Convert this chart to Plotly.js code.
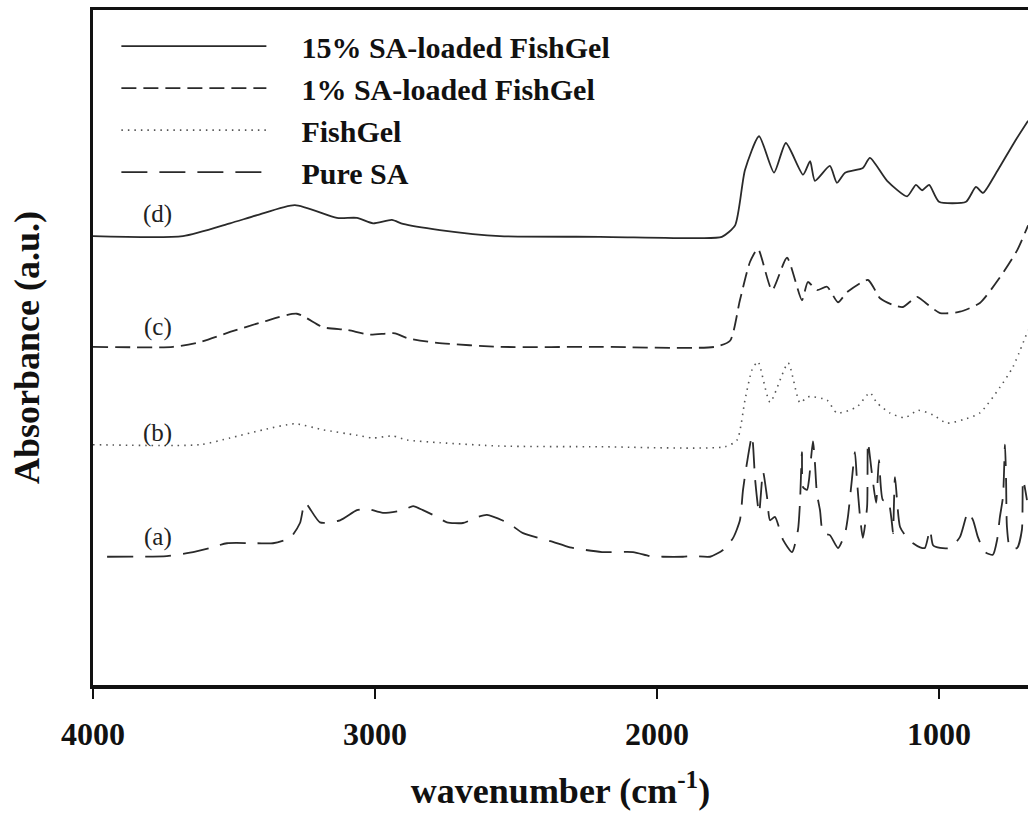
<!DOCTYPE html>
<html>
<head>
<meta charset="utf-8">
<script src="https://cdn.plot.ly/plotly-3.0.1.min.js"></script>
<style>html,body{margin:0;padding:0;background:#fff;}</style>
</head>
<body>
<div id="chart" style="width:1028px;height:822px;"></div>
<script>
// (d) 15% SA-loaded FishGel
const wnD = [4000,3681,3514,3418,3284,3135,3064,3007,2940,2901,2770,2557,2202,1848,1770,1723,1688,1638,1585,1543,1482,1457,1440,1387,1362,1333,1270,1245,1184,1113,1082,1060,1035,1000,904,869,844,801,730,684];
const absD = [66.5,66.5,68.4,69.6,71.1,69.2,69.2,68.4,68.9,68.3,67.4,66.5,66.4,66.2,66.4,68.1,76.3,81.3,75.9,80.3,75.6,77.6,74.7,76.9,74.4,75.9,76.6,78.1,74.7,72.4,74.1,73.3,74.1,71.6,71.6,73.8,72.9,75.6,80.6,83.6];
// (c) 1% SA-loaded FishGel
const wnC = [4000,3716,3621,3514,3397,3277,3184,3099,3018,2929,2887,2780,2557,2202,1794,1741,1706,1670,1642,1592,1539,1486,1465,1433,1397,1358,1326,1252,1209,1163,1128,1078,1050,996,926,855,784,723,684];
const absC = [50.1,50.1,50.8,52.3,53.8,55.0,53.0,52.6,51.9,52.1,51.4,50.7,50.1,50.1,50.1,51.0,57.0,62.7,64.6,58.5,63.3,57.0,59.7,58.5,59.0,56.7,58.2,60.0,57.3,56.3,56.0,57.5,56.7,55.1,55.3,56.6,60.4,64.4,68.1];
// (b) FishGel
const wnB = [4000,3621,3514,3397,3284,3184,3064,3007,2936,2887,2770,2557,2202,1759,1716,1688,1663,1642,1599,1535,1493,1465,1397,1362,1291,1245,1220,1174,1121,1074,1021,972,915,855,784,738,684];
const absB = [35.6,35.6,36.6,37.8,38.7,37.8,37.0,36.6,36.9,36.3,35.9,35.4,35.3,35.3,36.3,42.2,46.7,47.9,41.9,47.7,41.8,42.7,42.2,40.3,41.2,43.3,41.8,40.3,39.6,40.7,40.0,38.8,39.3,40.3,44.1,47.1,52.6];
// (a) Pure SA
const wnA = [3950,3738,3656,3585,3525,3418,3362,3301,3266,3248,3195,3124,3064,3028,2972,2901,2865,2830,2780,2745,2688,2635,2603,2528,2475,2369,2309,2195,2085,2025,1979,1908,1872,1812,1766,1730,1706,1695,1681,1663,1652,1638,1624,1610,1599,1582,1553,1521,1500,1493,1486,1482,1468,1461,1447,1440,1433,1422,1411,1387,1358,1333,1323,1309,1298,1291,1280,1270,1255,1252,1238,1223,1213,1199,1181,1167,1163,1156,1138,1113,1092,1067,1050,1032,1021,996,961,926,897,879,862,837,809,794,784,773,766,762,759,748,723,706,702,688];
const absA = [19.0,19.1,19.6,20.3,21.0,21.0,21.0,21.8,24.0,27.0,24.1,24.4,25.9,26.1,25.5,25.9,26.5,25.9,24.9,24.1,24.0,24.9,25.2,24.0,22.5,21.2,20.4,19.7,19.7,19.1,19.0,19.0,19.1,19.0,20.0,21.8,24.4,28.9,32.9,36.9,30.4,25.5,31.6,27.9,24.4,24.9,21.5,19.7,23.0,27.0,34.5,29.3,28.9,30.4,36.1,32.9,28.4,25.9,22.5,22.2,20.3,22.5,24.9,30.4,34.5,30.4,24.9,21.8,26.4,36.0,31.4,27.0,33.3,27.4,27.4,24.0,22.5,30.8,23.4,21.8,21.0,20.4,20.3,23.0,20.7,20.3,20.3,21.9,25.6,24.4,21.9,19.7,19.3,21.5,24.9,27.9,35.6,30.1,23.4,20.3,20.3,23.0,30.4,27.4];

const seriesNames = ["15% SA-loaded FishGel","1% SA-loaded FishGel","FishGel","Pure SA"];
const curveLabels = ["(d)","(c)","(b)","(a)"];
const labelY = [69.8,53.0,37.4,21.9];
const tickVals = [4000,3000,2000,1000];

const serif = "Liberation Serif, Times New Roman, serif";
const dashes = ["solid","15px,7px","1.5px,5px","26px,12px"];
const widths = [1.8,1.8,1.6,1.8];
const colors = ["#2a2a2a","#2a2a2a","#555555","#2a2a2a"];
const xs = [wnD,wnC,wnB,wnA];
const ys = [absD,absC,absB,absA];
const pad = "\u00a0\u00a0\u00a0\u00a0";

const data = xs.map((x,i)=>({
  x:x, y:ys[i], type:"scatter", mode:"lines", name:pad+seriesNames[i],
  legendgroup:"g"+i,
  line:{color:colors[i], width:widths[i], dash:dashes[i], shape:"spline", smoothing:0.6}
}));

const annotations = curveLabels.map((t,i)=>({
  x:3770, y:labelY[i], xref:"x", yref:"y", text:t, showarrow:false,
  font:{family:serif, size:25, color:"#222"}
}));

const layout = {
  width:1028, height:822,
  margin:{l:93, r:0, t:10, b:137},
  paper_bgcolor:"#fff", plot_bgcolor:"#fff",
  showlegend:true,
  legend:{x:0.025, xanchor:"left", y:0.985, yanchor:"top", itemwidth:145,
    font:{family:serif, size:30, color:"#111", weight:"bold"},
    tracegroupgap:0, traceorder:"grouped", bgcolor:"rgba(0,0,0,0)"},
  xaxis:{range:[4000,684.4], tickvals:tickVals, ticktext:tickVals.map(String),
    ticks:"outside", ticklen:10, tickwidth:2, tickcolor:"#111",
    showline:true, linewidth:3.5, linecolor:"#111", mirror:true,
    showgrid:false, zeroline:false, ticklabelstandoff:8,
    tickfont:{family:serif, size:32, color:"#111", weight:"bold"},
    title:{text:"wavenumber (cm<sup>-1</sup>)", standoff:28,
      font:{family:serif, size:36, color:"#111", weight:"bold"}}},
  yaxis:{range:[0,100], showticklabels:false, ticks:"", showgrid:false, zeroline:false,
    showline:true, linewidth:3.5, linecolor:"#111", mirror:false,
    title:{text:"Absorbance (a.u.)", standoff:40,
      font:{family:serif, size:36, color:"#111", weight:"bold"}}},
  annotations:annotations
};
Plotly.newPlot("chart", data, layout, {displayModeBar:false, staticPlot:true});
</script>
</body>
</html>
